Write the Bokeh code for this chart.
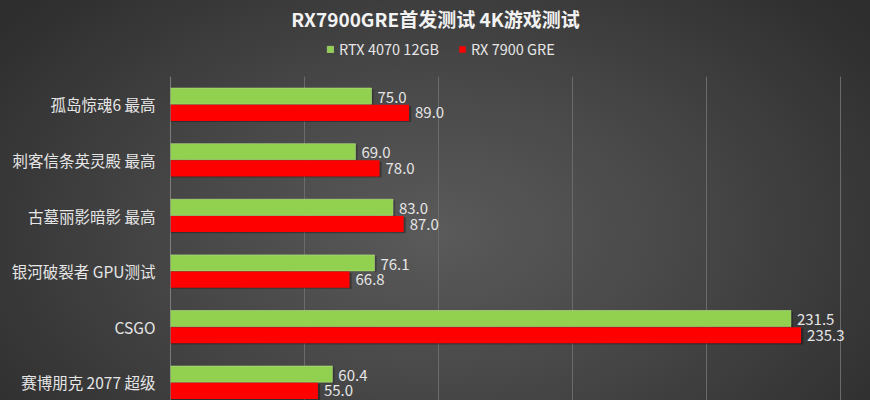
from bokeh.plotting import figure
from bokeh.models import (ColumnDataSource, Range1d, FixedTicker, Legend, LegendItem, Label)
from bokeh.transform import dodge
from bokeh.core.properties import value
from bokeh.embed import file_html
from bokeh.resources import INLINE

title_text = "RX7900GRE首发测试 4K游戏测试"
games = ["孤岛惊魂6 最高", "刺客信条英灵殿 最高", "古墓丽影暗影 最高",
         "银河破裂者 GPU测试", "CSGO", "赛博朋克 2077 超级"]
series_names = ["RTX 4070 12GB", "RX 7900 GRE"]
rtx4070 = [75.0, 69.0, 83.0, 76.1, 231.5, 60.4]
rx7900gre = [89.0, 78.0, 87.0, 66.8, 235.3, 55.0]
grid_ticks = [0, 50, 100, 150, 200, 250]

FONT = "Noto Sans CJK SC"
GREEN = "#92D050"
RED = "#FF0000"
TXT = "#e6e6e6"

idx = list(range(len(games)))
src = ColumnDataSource(dict(
    y=idx, g=rtx4070, r=rx7900gre,
    gl=[f"{v:.1f}" for v in rtx4070], rl=[f"{v:.1f}" for v in rx7900gre],
    gs=[v + 0.8 for v in rtx4070], rs=[v + 0.8 for v in rx7900gre],
))

W, H = 870, 400
Y_TOP, Y_BOT = -1.870, 5.324
p = figure(width=W, height=H, output_backend="svg", toolbar_location=None,
           x_range=Range1d(0, 261.2), y_range=Range1d(Y_BOT, Y_TOP),
           min_border_left=170, min_border_right=0, min_border_top=0,
           min_border_bottom=0)
p.styles = {
    "background": "radial-gradient(ellipse 62% 85% at 50% 58%, #5a5a5a 0%, #484848 45%, #2e2e2e 100%)",
}
p.background_fill_alpha = 0
p.border_fill_alpha = 0
p.outline_line_color = None

band_top = idx[0] - 0.5

# gridlines and axis line (only over the bar area)
p.segment(x0=grid_ticks[1:], x1=grid_ticks[1:], y0=band_top, y1=Y_BOT,
          line_color="#6c6c6c", line_width=1)
p.segment(x0=[grid_ticks[0]], x1=[grid_ticks[0]], y0=band_top, y1=Y_BOT,
          line_color="#b4b4b4", line_width=1)

# shadows
p.hbar(y=dodge("y", -0.13, range=p.y_range), right="gs", left=0, height=0.29,
       source=src, fill_color="black", fill_alpha=0.25, line_color=None)
p.hbar(y=dodge("y", 0.17, range=p.y_range), right="rs", left=0, height=0.29,
       source=src, fill_color="black", fill_alpha=0.3, line_color=None)

g_r = p.hbar(y=dodge("y", -0.15, range=p.y_range), right="g", left=0, height=0.29,
             source=src, fill_color=GREEN, line_color="#b8e08a", line_width=0.6)
r_r = p.hbar(y=dodge("y", 0.15, range=p.y_range), right="r", left=0, height=0.29,
             source=src, fill_color=RED, line_color=None)

p.text(x="g", y=dodge("y", -0.13, range=p.y_range), text="gl", source=src,
       x_offset=6, text_baseline="middle", text_align="left",
       text_font=value(FONT), text_font_size="15px", text_color=TXT)
p.text(x="r", y=dodge("y", 0.15, range=p.y_range), text="rl", source=src,
       x_offset=6, text_baseline="middle", text_align="left",
       text_font=value(FONT), text_font_size="15px", text_color=TXT)

# axes
p.xaxis.visible = False
p.xgrid.visible = False
p.ygrid.visible = False

ya = p.yaxis[0]
ya.ticker = FixedTicker(ticks=idx)
ya.major_label_overrides = {i: g for i, g in zip(idx, games)}
ya.major_label_text_font = FONT
ya.major_label_text_font_size = "15.5px"
ya.major_label_text_color = TXT
ya.major_tick_line_color = None
ya.minor_tick_line_color = None
ya.axis_line_color = None
ya.major_label_standoff = 9

# title
p.add_layout(Label(x=265, y=382, x_units="screen", y_units="screen",
                   text=title_text, text_align="center", text_baseline="middle",
                   text_font=FONT, text_font_size="19px", text_font_style="bold",
                   text_color="#f2f2f2"))

legend = Legend(items=[LegendItem(label=series_names[0], renderers=[g_r]),
                       LegendItem(label=series_names[1], renderers=[r_r])],
                orientation="horizontal", location=(156, 341),
                glyph_width=8, glyph_height=8, label_standoff=5, spacing=19,
                padding=0, margin=0, label_height=14,
                label_text_font=FONT, label_text_font_size="14.5px",
                label_text_color=TXT, background_fill_alpha=0,
                border_line_color=None)
p.add_layout(legend, "center")

open("out.html", "w").write(file_html(p, INLINE))
